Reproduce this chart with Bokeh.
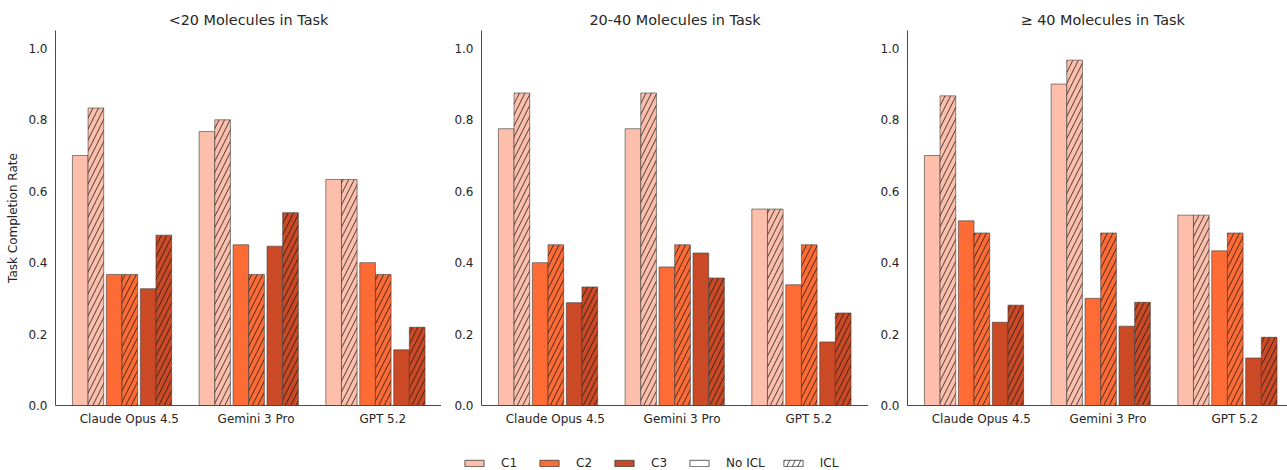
from bokeh.plotting import figure
from bokeh.layouts import row, column
from bokeh.models import FixedTicker, NumeralTickFormatter, Legend, LegendItem, Range1d
from bokeh.embed import file_html
from bokeh.resources import INLINE

models = ["Claude Opus 4.5", "Gemini 3 Pro", "GPT 5.2"]
panel_titles = ["<20 Molecules in Task", "20-40 Molecules in Task", "\u2265 40 Molecules in Task"]
conditions = ["C1", "C2", "C3"]
y_ticks = [0.0, 0.2, 0.4, 0.6, 0.8, 1.0]

# <20 molecules
lt20_c1_noicl = [0.700, 0.767, 0.633]
lt20_c1_icl = [0.833, 0.800, 0.633]
lt20_c2_noicl = [0.367, 0.450, 0.400]
lt20_c2_icl = [0.367, 0.367, 0.367]
lt20_c3_noicl = [0.327, 0.446, 0.156]
lt20_c3_icl = [0.477, 0.540, 0.219]

# 20-40 molecules
mid_c1_noicl = [0.775, 0.775, 0.550]
mid_c1_icl = [0.875, 0.875, 0.550]
mid_c2_noicl = [0.400, 0.388, 0.338]
mid_c2_icl = [0.450, 0.450, 0.450]
mid_c3_noicl = [0.288, 0.427, 0.178]
mid_c3_icl = [0.332, 0.357, 0.259]

# >=40 molecules
ge40_c1_noicl = [0.700, 0.900, 0.533]
ge40_c1_icl = [0.867, 0.967, 0.533]
ge40_c2_noicl = [0.517, 0.300, 0.433]
ge40_c2_icl = [0.483, 0.483, 0.483]
ge40_c3_noicl = [0.233, 0.222, 0.133]
ge40_c3_icl = [0.281, 0.289, 0.191]

panels = [
    [(lt20_c1_noicl, lt20_c1_icl), (lt20_c2_noicl, lt20_c2_icl), (lt20_c3_noicl, lt20_c3_icl)],
    [(mid_c1_noicl, mid_c1_icl), (mid_c2_noicl, mid_c2_icl), (mid_c3_noicl, mid_c3_icl)],
    [(ge40_c1_noicl, ge40_c1_icl), (ge40_c2_noicl, ge40_c2_icl), (ge40_c3_noicl, ge40_c3_icl)],
]

colors = ["#FDBFAB", "#FE6B35", "#CB4A25"]
FONT = "DejaVu Sans"
TXT = "#262626"
AX = "#4a4a4a"
EDGE = "#3a3a3a"
HATCH = dict(hatch_pattern="/", hatch_color="#1a1a1a", hatch_scale=11, hatch_weight=0.8)

BW = 0.1235
COND_OFF = [-0.268, 0.0, 0.268]
GROUP_SHIFT = -0.058
PX_PER_UNIT = 126.7
X0 = -0.583

frame_widths = [386, 387, 380]
left_borders = [55, 40, 39]
FRAME_H = 375
TOP = 30
ROW_H = 440


def make_panel(idx):
    fw = frame_widths[idx]
    p = figure(
        frame_width=fw, frame_height=FRAME_H,
        min_border_left=left_borders[idx], min_border_right=0,
        min_border_top=TOP, min_border_bottom=ROW_H - TOP - FRAME_H,
        x_range=Range1d(X0, X0 + fw / PX_PER_UNIT), y_range=Range1d(0, 1.05),
        output_backend="svg", toolbar_location=None, tools="",
    )
    p.title.text = panel_titles[idx]
    p.title.text_font = FONT
    p.title.text_font_size = "14.4px"
    p.title.text_font_style = "normal"
    p.title.text_color = TXT
    p.title.standoff = 5
    if idx == 2:
        p.title.align = "left"
        p.title.offset = 113
    else:
        p.title.align = "center"
    p.outline_line_color = None
    p.xgrid.visible = False
    p.ygrid.visible = False

    for ci, (noicl, icl) in enumerate(panels[idx]):
        xs_no = [i + GROUP_SHIFT + COND_OFF[ci] - BW / 2 for i in range(len(models))]
        xs_icl = [i + GROUP_SHIFT + COND_OFF[ci] + BW / 2 for i in range(len(models))]
        p.vbar(x=xs_no, top=noicl, bottom=0, width=BW, fill_color=colors[ci],
               line_color=EDGE, line_alpha=0.75, line_width=0.8)
        p.vbar(x=xs_icl, top=icl, bottom=0, width=BW, fill_color=colors[ci],
               line_color=EDGE, line_alpha=0.75, line_width=0.8, **HATCH)

    p.xaxis.ticker = FixedTicker(ticks=list(range(len(models))))
    p.xaxis.major_label_overrides = {i: m for i, m in enumerate(models)}
    p.yaxis.ticker = FixedTicker(ticks=y_ticks)
    p.yaxis.formatter = NumeralTickFormatter(format="0.0")
    for ax in (p.xaxis, p.yaxis):
        ax.major_tick_out = 0
        ax.major_tick_in = 0
        ax.minor_tick_out = 0
        ax.minor_tick_in = 0
        ax.axis_line_color = AX
        ax.axis_line_width = 1
        ax.major_label_text_font = FONT
        ax.major_label_text_font_size = "12px"
        ax.major_label_text_color = TXT
    p.xaxis.major_label_standoff = 6
    p.yaxis.major_label_standoff = 8
    if idx == 0:
        p.yaxis.axis_label = "Task Completion Rate"
        p.yaxis.axis_label_text_font = FONT
        p.yaxis.axis_label_text_font_size = "12px"
        p.yaxis.axis_label_text_font_style = "normal"
        p.yaxis.axis_label_text_color = TXT
        p.yaxis.axis_label_standoff = 5
    return p


figs = [make_panel(i) for i in range(3)]

# separate strip holding the shared legend (proxy glyphs sit outside the visible range)
lf = figure(width=1287, height=470 - ROW_H, min_border=0,
            x_range=Range1d(0, 1), y_range=Range1d(0, 1),
            output_backend="svg", toolbar_location=None, tools="")
lf.axis.visible = False
lf.grid.visible = False
lf.outline_line_color = None
proxy = dict(x=[-10], top=[-10], bottom=[-11], width=0.1)
items = []
for ci, c in enumerate(conditions):
    r = lf.vbar(fill_color=colors[ci], line_color=EDGE, line_width=0.8, **proxy)
    items.append(LegendItem(label=c, renderers=[r]))
r_no = lf.vbar(fill_color="white", line_color=EDGE, line_width=0.8, **proxy)
items.append(LegendItem(label="No ICL", renderers=[r_no]))
r_icl = lf.vbar(fill_color="white", line_color=EDGE, line_width=0.8, **HATCH, **proxy)
items.append(LegendItem(label="ICL", renderers=[r_icl]))

legend = Legend(items=items, orientation="horizontal", location=(462, 0),
                glyph_width=24, glyph_height=8, label_standoff=15, spacing=16,
                padding=0, margin=0, border_line_color=None, background_fill_alpha=0,
                label_text_font=FONT, label_text_font_size="12px", label_text_color=TXT)
lf.add_layout(legend, "center")

layout = column(row(*figs), lf)
open("out.html", "w").write(file_html(layout, INLINE))
